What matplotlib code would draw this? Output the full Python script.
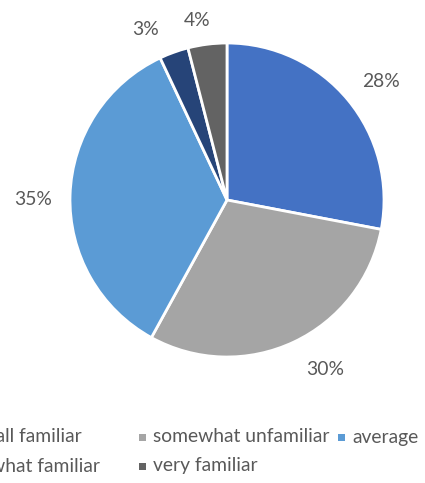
import numpy as np
import matplotlib
matplotlib.use("Agg")
import matplotlib.pyplot as plt
from matplotlib.patches import Rectangle

categories = ["not at all familiar", "somewhat unfamiliar", "average",
              "somewhat familiar", "very familiar"]
shares = [28, 30, 35, 3, 4]
colors = ["#4472C4", "#A5A5A5", "#5B9BD5", "#264478", "#636363"]

W, H = 425, 483
DPI = 100
plt.rcParams["font.family"] = ["Lato", "DejaVu Sans"]
TEXT = "#595959"
FS = 13.9

fig = plt.figure(figsize=(W / DPI, H / DPI), dpi=DPI)
fig.patch.set_facecolor("white")

# pie placed in pixel terms: centre and radius
cx, cy, R = 227, 200, 157
half = 205
ax = fig.add_axes([(cx - half) / W, (H - cy - half) / H, 2 * half / W, 2 * half / H])
ax.axis("off")

wedges, _ = ax.pie(
    shares, colors=colors, startangle=90, counterclock=False, radius=1.0,
    wedgeprops=dict(edgecolor="white", linewidth=2),
)
ax.set_xlim(-half / R, half / R)
ax.set_ylim(-half / R, half / R)
ax.set_aspect("equal")

# best-fit style placement of the percentage labels outside each wedge:
# (angle shift in degrees from the wedge middle, distance in radii)
label_layout = [(-2.0, 1.238), (4.9, 1.245), (1.8, 1.236), (5.7, 1.20), (2.3, 1.156)]
for w, v, (dtheta, dist) in zip(wedges, shares, label_layout):
    mid = np.deg2rad((w.theta1 + w.theta2) / 2 + dtheta)
    ax.text(dist * np.cos(mid), dist * np.sin(mid), f"{v}%", color=TEXT,
            fontsize=FS, ha="center", va="center")

# legend drawn as markers + text in pixel coordinates
fig.canvas.draw()
renderer = fig.canvas.get_renderer()
msize = 7
gap = 8

def legend_item(idx, x_text, y, align_right=False):
    t = fig.text(x_text / W, 1 - y / H, categories[idx], color=TEXT,
                 fontsize=FS, ha="right" if align_right else "left", va="center")
    if align_right:
        bb = t.get_window_extent(renderer)
        x0 = bb.x0
    else:
        x0 = x_text
    mx = x0 - gap - msize / 2 + 1
    fig.patches.append(Rectangle(((mx - msize / 2) / W, 1 - (y + msize / 2) / H),
                                 msize / W, msize / H, transform=fig.transFigure,
                                 facecolor=colors[idx], edgecolor="none"))

legend_item(0, 82, 437, align_right=True)
legend_item(1, 153, 437)
legend_item(2, 352, 437)
legend_item(3, 100, 466, align_right=True)
legend_item(4, 153, 466)

fig.savefig("out.png", dpi=DPI, facecolor="white")
